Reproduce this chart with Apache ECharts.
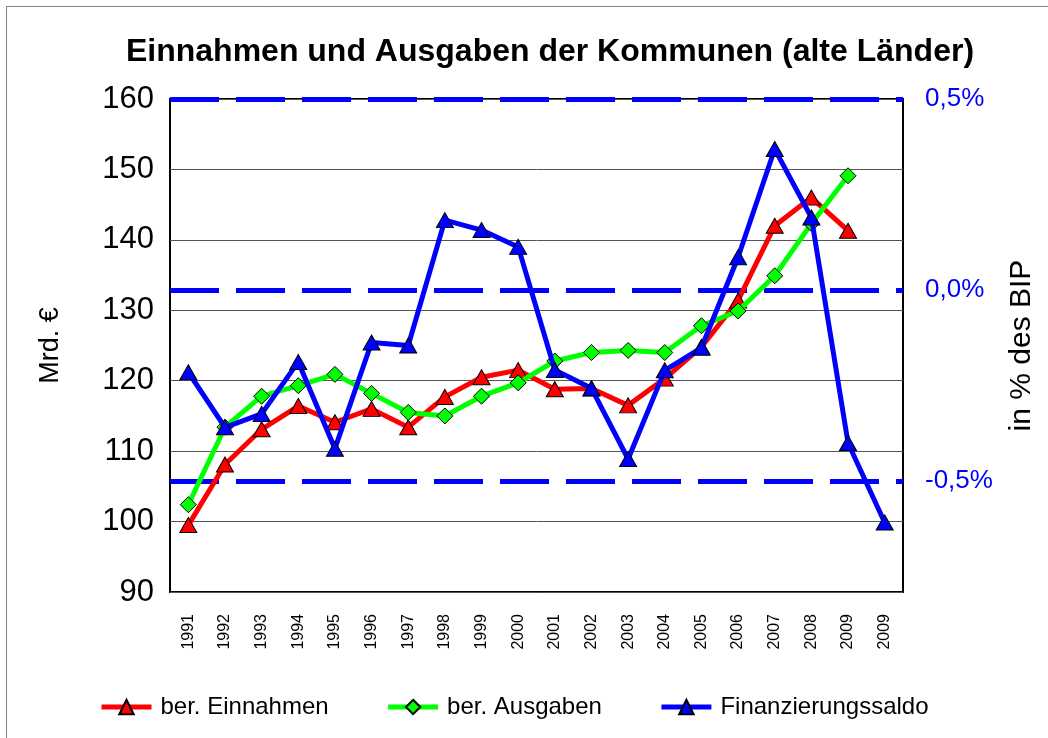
<!DOCTYPE html>
<html>
<head>
<meta charset="utf-8">
<script src="https://cdn.jsdelivr.net/npm/echarts@6/dist/echarts.min.js"></script>
<style>
  html, body { margin: 0; padding: 0; background: #fff; }
  #chart { width: 1048px; height: 738px; }
</style>
</head>
<body>
<div id="chart"></div>
<script>
const years = ["1991", "1992", "1993", "1994", "1995", "1996", "1997", "1998", "1999", "2000",
  "2001", "2002", "2003", "2004", "2005", "2006", "2007", "2008", "2009", "2009"];

// Mrd. € (left axis)
const einnahmen = [99.5, 108.1, 113.1, 116.4, 114.1, 116.0, 113.4, 117.7, 120.5, 121.5,
  118.8, 118.9, 116.5, 120.3, 124.8, 131.4, 142.0, 146.0, 141.3, null];
const ausgaben = [102.4, 113.4, 117.8, 119.3, 120.9, 118.2, 115.5, 115.0, 117.8, 119.7,
  122.8, 124.0, 124.3, 124.0, 127.8, 129.9, 134.9, 142.3, 149.1, null];

// in % des BIP (right axis)
const saldo = [-0.215, -0.359, -0.324, -0.188, -0.415, -0.137, -0.145, 0.183, 0.157, 0.113,
  -0.209, -0.257, -0.442, -0.21, -0.151, 0.086, 0.369, 0.19, -0.40, -0.608];

const leftTicks = { min: 90, max: 160, interval: 10 };
const rightTicks = [-0.5, 0, 0.5];

const font = "Liberation Sans, Arial, sans-serif";

const chart = echarts.init(document.getElementById("chart"));

function triangleSeries(name, data, color, yIndex) {
  return {
    name: name,
    type: "line",
    yAxisIndex: yIndex,
    data: data,
    symbol: "triangle",
    symbolSize: [17, 15],
    lineStyle: { color: color, width: 5 },
    itemStyle: { color: color, borderColor: "#000", borderWidth: 1 },
    z: 3,
  };
}

chart.setOption({
  animation: false,
  backgroundColor: "#fff",
  textStyle: { fontFamily: font },
  title: {
    text: "Einnahmen und Ausgaben der Kommunen (alte Länder)",
    left: 545,
    textAlign: "center",
    top: 31,
    textStyle: { fontSize: 32, fontWeight: "bold", color: "#000", fontFamily: font },
  },
  grid: {
    left: 170, right: 145, top: 99, bottom: 146,
    show: true, borderColor: "#000", borderWidth: 2, backgroundColor: "#fff",
  },
  legend: {
    bottom: 14,
    left: 94,
    itemWidth: 50,
    itemHeight: 18,
    itemGap: 57,
    textStyle: { fontSize: 24, color: "#000", fontFamily: font, padding: [0, 0, 0, 4] },
    data: [
      { name: "ber. Einnahmen", lineStyle: { width: 5 } },
      { name: "ber. Ausgaben", lineStyle: { width: 5 } },
      { name: "Finanzierungssaldo", lineStyle: { width: 5 } },
    ],
  },
  xAxis: {
    type: "category",
    data: years,
    boundaryGap: true,
    axisLine: { show: false },
    axisTick: { show: false },
    axisLabel: { rotate: 90, fontSize: 16, color: "#000", margin: 22, interval: 0 },
  },
  yAxis: [
    {
      type: "value",
      min: leftTicks.min, max: leftTicks.max, interval: leftTicks.interval,
      name: "Mrd. €",
      nameLocation: "middle",
      nameRotate: 90,
      nameGap: 106,
      nameTextStyle: { fontSize: 27, color: "#000" },
      axisLine: { show: false },
      axisTick: { show: false },
      axisLabel: { fontSize: 31, color: "#000", margin: 16 },
      splitLine: { lineStyle: { color: "#555", width: 1 } },
    },
    {
      type: "value",
      min: -0.79, max: 0.5,
      name: "in % des BIP",
      nameLocation: "middle",
      nameRotate: 90,
      nameGap: 104,
      nameTextStyle: { fontSize: 30, color: "#000", verticalAlign: "top" },
      axisLine: { show: false },
      axisTick: { show: false },
      splitLine: { show: false },
      axisLabel: {
        customValues: rightTicks,
        fontSize: 26,
        color: "#0000ff",
        margin: 22,
        formatter: (v) => v.toFixed(1).replace(".", ",") + "%",
      },
    },
  ],
  series: [
    triangleSeries("ber. Einnahmen", einnahmen, "#ff0000", 0),
    {
      name: "ber. Ausgaben",
      type: "line",
      yAxisIndex: 0,
      data: ausgaben,
      symbol: "diamond",
      symbolSize: 16,
      lineStyle: { color: "#00ff00", width: 5 },
      itemStyle: { color: "#00ff00", borderColor: "#000", borderWidth: 1 },
      z: 4,
    },
    Object.assign(triangleSeries("Finanzierungssaldo", saldo, "#0000ff", 1), {
      z: 5,
      markLine: {
        silent: true,
        symbol: "none",
        label: { show: false },
        lineStyle: { color: "#0000ff", width: 5, type: [49, 17] },
        data: rightTicks.map((v) => ({ yAxis: v })),
        z: 2,
      },
    }),
  ],
  graphic: [
    {
      type: "rect",
      shape: { x: 6.5, y: 6.5, width: 1100, height: 800 },
      style: { fill: null, stroke: "#808080", lineWidth: 1 },
      silent: true,
    },
  ],
});
</script>
</body>
</html>
